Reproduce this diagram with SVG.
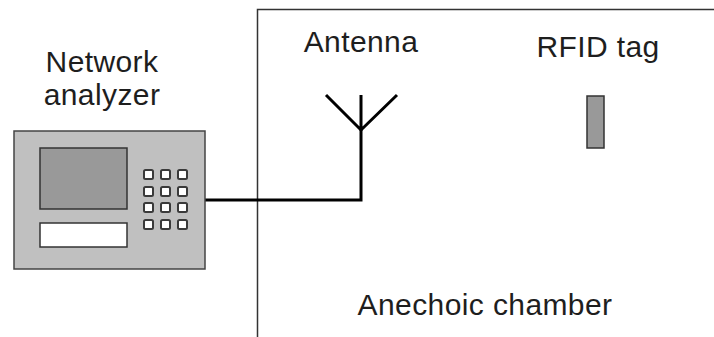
<svg xmlns="http://www.w3.org/2000/svg" width="714" height="337" viewBox="0 0 714 337">
  <style>
    .label { font-family: "Liberation Sans", Arial, sans-serif; font-size: 30px; letter-spacing: 0.4px; fill: #1e1e1e; text-anchor: middle; }
    .key { fill: #ffffff; stroke: #3a3a3a; stroke-width: 2; }
    .wire { fill: none; stroke: #000000; stroke-width: 3; }
  </style>
  <defs>
    <rect id="key" class="key" width="9" height="9" rx="1.5"/>
  </defs>
  <rect width="714" height="337" fill="#ffffff"/>

  <!-- Anechoic chamber outline (open to the right and bottom) -->
  <g id="chamber">
    <path d="M257.5 337 V9.5 H714" fill="none" stroke="#333333" stroke-width="1.5"/>
    <text class="label" x="485" y="315">Anechoic chamber</text>
  </g>

  <!-- Connectors: cable from analyzer to antenna -->
  <g id="connectors">
    <path class="wire" d="M205 200 H361 V130"/>
  </g>

  <!-- Network analyzer -->
  <g id="network-analyzer">
    <text class="label" x="102" y="72">Network</text>
    <text class="label" x="102" y="105">analyzer</text>
    <rect x="14" y="131" width="191" height="138" fill="#c0c0c0" stroke="#444444" stroke-width="1.5"/>
    <rect x="40" y="148" width="87" height="61" fill="#999999" stroke="#333333" stroke-width="1.5"/>
    <rect x="40" y="223" width="87" height="24" fill="#ffffff" stroke="#333333" stroke-width="1.5"/>
    <use href="#key" x="144" y="170"/><use href="#key" x="161" y="170"/><use href="#key" x="178" y="170"/>
    <use href="#key" x="144" y="187"/><use href="#key" x="161" y="187"/><use href="#key" x="178" y="187"/>
    <use href="#key" x="144" y="203"/><use href="#key" x="161" y="203"/><use href="#key" x="178" y="203"/>
    <use href="#key" x="144" y="220"/><use href="#key" x="161" y="220"/><use href="#key" x="178" y="220"/>
  </g>

  <!-- Antenna -->
  <g id="antenna">
    <text class="label" x="361" y="52">Antenna</text>
    <path class="wire" d="M361 131 V95 M326 95 L361 130 L397 95"/>
  </g>

  <!-- RFID tag -->
  <g id="rfid-tag">
    <text class="label" x="598" y="57">RFID tag</text>
    <rect x="587" y="96" width="17" height="52" fill="#999999" stroke="#333333" stroke-width="1.5"/>
  </g>
</svg>
